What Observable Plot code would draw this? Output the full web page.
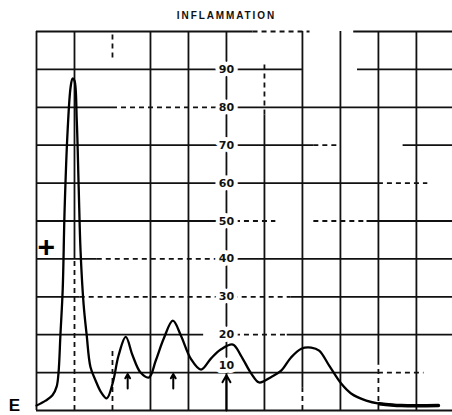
<!DOCTYPE html>
<html>
<head>
<meta charset="utf-8">
<script src="https://cdn.jsdelivr.net/npm/d3@7"></script>
<script src="https://cdn.jsdelivr.net/npm/@observablehq/plot@0.6"></script>
<style>
  html, body { margin: 0; padding: 0; background: #fff; }
  #chart svg { display: block; }
</style>
</head>
<body>
<div id="chart"></div>
<script>
// ---- data (x in grid units, y in scale units 0..100) ----
const curveX = [0, 0.24, 0.42, 0.53, 0.58, 0.63, 0.69, 0.74, 0.82, 0.90, 0.95, 1.00, 1.06, 1.11, 1.16, 1.24, 1.32, 1.42, 1.56, 1.69, 1.85,
  2.01, 2.16, 2.35, 2.53, 2.74, 2.96, 3.14, 3.35, 3.59, 3.80, 4.06, 4.33, 4.59, 4.85, 5.17, 5.38, 5.65, 5.86,
  6.17, 6.44, 6.70, 6.97, 7.23, 7.44, 7.70, 8.02, 8.28, 8.68, 9.02, 9.60, 10.58];
const curveY = [1.3, 2.6, 4.0, 6.3, 10, 20, 32, 53, 74, 85.5, 87.6, 87, 76.5, 59, 42, 28, 20, 11.5, 7.8, 5.0, 3.2,
  7.4, 14.5, 19.4, 14.5, 10, 8.7, 13.2, 19, 23.7, 19.8, 13.7, 10.8, 13.7, 16.1, 17.4, 14.5, 9.8, 7.4,
  8.8, 10.5, 14, 16.3, 16.6, 15.8, 11.9, 7.1, 4.5, 2.6, 1.8, 1.3, 1.3];

const tickValues = [10, 20, 30, 40, 50, 60, 70, 80, 90];
const tickLabels = ["10", "20", "30", "40", "50", "60", "70", "80", "90"];
const tickLabelAt = [11.9, 20, 30, 40, 50, 60, 70, 80, 90];

const arrowX = [2.4, 3.6, 5.0];
const arrowFrom = [5.8, 5.8, 0];
const arrowTo = [9.6, 9.6, 9.3];

// grid as drawn on the (scanned) sheet: [level, from, to]
const gridHSolid = [[100, 0, 5.7], [100, 8.35, 11], [90, 0, 7.0], [90, 8.45, 11], [80, 0, 2.0], [80, 5.0, 11],
  [70, 0, 7.3], [70, 9.65, 11], [60, 0, 9.0], [50, 0, 5.0], [50, 8.7, 11], [40, 0, 1.6], [40, 5.0, 11],
  [30, 0, 1.15], [30, 6.7, 11], [20, 0, 4.4], [20, 6.6, 11], [10, 0, 9.0], [0, 0, 11]];
const gridHDashed = [[100, 5.7, 7.2], [80, 2.0, 5.0], [70, 7.3, 8.0], [60, 9.0, 10.3], [50, 5.0, 6.3], [50, 7.3, 8.7],
  [40, 1.6, 5.0], [30, 1.15, 6.7], [20, 5.0, 6.6], [10, 9.0, 10.2]];
const gridVSolid = [[0, 0, 100], [1, 40, 100], [3, 0, 100], [4, 0, 100], [5, 0, 100], [6, 0, 78], [7, 6, 100],
  [8, 0, 100], [9, 12, 100], [10, 0, 100]];
const gridVDashed = [[1, 0, 40], [2, 93, 100], [2, 0, 16], [6, 78, 92], [7, 0, 6], [9, 0, 12]];

const titleText = "INFLAMMATION";
const sideMarks = [{label: "E", x: -0.58, y: 1.3}, {label: "+", x: 0.26, y: 43}];

// ---- build ----
const curve = curveX.map((x, i) => ({x, y: curveY[i]}));
const ticks = tickValues.map((v, i) => ({v, at: tickLabelAt[i], label: tickLabels[i]}));
const arrows = arrowX.map((x, i) => ({x, y1: arrowFrom[i], y2: arrowTo[i]}));
const hs = a => a.map(([y, x1, x2]) => ({y, x1, x2}));
const vs = a => a.map(([x, y1, y2]) => ({x, y1, y2}));

const chart = Plot.plot({
  width: 452,
  height: 415,
  marginTop: 31,
  marginBottom: 5,
  marginLeft: 36,
  marginRight: 0,
  x: {domain: [0, 10.95], axis: null},
  y: {domain: [0, 100], axis: null},
  style: {background: "#fff"},
  marks: [
    Plot.ruleY(hs(gridHSolid), {y: "y", x1: "x1", x2: "x2", stroke: "#111", strokeWidth: 1.8}),
    Plot.ruleY(hs(gridHDashed), {y: "y", x1: "x1", x2: "x2", stroke: "#111", strokeWidth: 1.8, strokeDasharray: "5,4"}),
    Plot.ruleX(vs(gridVSolid), {x: "x", y1: "y1", y2: "y2", stroke: "#111", strokeWidth: 1.8}),
    Plot.ruleX(vs(gridVDashed), {x: "x", y1: "y1", y2: "y2", stroke: "#111", strokeWidth: 1.8, strokeDasharray: "5,4"}),
    Plot.text(ticks, {x: 5, y: "at", text: "label", fill: "#111", stroke: "#fff", strokeWidth: 8,
      fontSize: 11, fontFamily: "DejaVu Sans", fontWeight: "bold", paintOrder: "stroke"}),
    Plot.line(curve, {x: "x", y: "y", curve: "catmull-rom", stroke: "#000", strokeWidth: 2.3}),
    Plot.line(curve.filter(d => d.x >= 9.0), {x: "x", y: "y", curve: "catmull-rom", stroke: "#000", strokeWidth: 3.5}),
    Plot.arrow(arrows, {x1: "x", x2: "x", y1: "y1", y2: "y2", stroke: "#000", strokeWidth: 2, headLength: 6}),
    Plot.text(sideMarks, {x: "x", y: "y", text: "label", fill: "#000", fontWeight: "bold",
      fontFamily: "Liberation Sans", fontSize: d => d.label === "+" ? 30 : 17}),
    Plot.text([titleText], {x: 5, y: 100, dy: -16, text: d => d, fill: "#111", fontSize: 10,
      fontWeight: "bold", fontFamily: "Liberation Sans"})
  ]
});
d3.select(chart).selectAll("text").filter(function () { return this.textContent === titleText; })
  .style("letter-spacing", "1.9px");
document.getElementById("chart").appendChild(chart);
</script>
</body>
</html>
